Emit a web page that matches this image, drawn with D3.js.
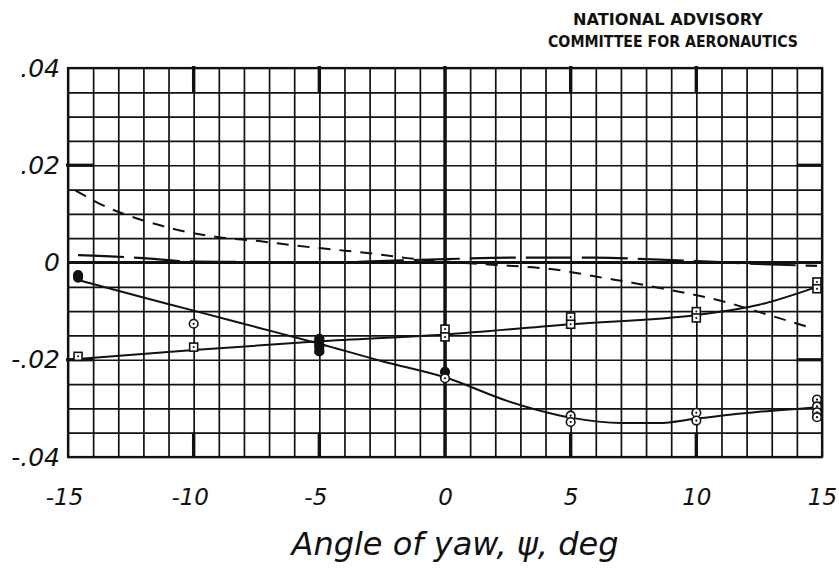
<!DOCTYPE html>
<html>
<head>
<meta charset="utf-8">
<script src="https://cdn.jsdelivr.net/npm/d3@7"></script>
<style>
  html, body { margin: 0; padding: 0; background: #fff; }
  svg { display: block; }
</style>
</head>
<body>
<svg id="chart" width="839" height="568"></svg>
<script>
// ---- data ----
const xTicks = [-15, -10, -5, 0, 5, 10, 15];
const xTickLabels = ["-15", "-10", "-5", "0", "5", "10", "15"];
const yTicks = [0.04, 0.02, 0, -0.02, -0.04];
const yTickLabels = [".04", ".02", "0", "-.02", "-.04"];

// circle-symbol test points
const circleX = [-14.6, -14.6, -10, -5, -5, -5, 0, 0, 5, 5, 10, 10, 14.8, 14.8, 14.8, 14.8];
const circleY = [-0.0026, -0.0031, -0.0126, -0.0157, -0.0172, -0.0183, -0.0225, -0.0238, -0.0315, -0.0328, -0.0309, -0.0325, -0.0282, -0.0296, -0.0308, -0.0318];
const circleFilled = [true, true, false, true, true, true, true, false, false, false, false, false, false, false, false, false];

// square-symbol test points
const squareX = [-14.6, -10, -5, -5, 0, 0, 5, 5, 10, 10, 14.8, 14.8];
const squareY = [-0.0193, -0.0174, -0.0163, -0.0178, -0.0137, -0.0153, -0.0112, -0.0127, -0.0101, -0.0114, -0.0040, -0.0054];

// faired curve through circles (solid)
const circleCurveX = [-14.6, -12, -10, -7.5, -5, -2.5, 0, 2.5, 5, 7, 8.5, 10, 12.5, 14.8];
const circleCurveY = [-0.0036, -0.0072, -0.0099, -0.0133, -0.0167, -0.0203, -0.0236, -0.0285, -0.0319, -0.0330, -0.0330, -0.0321, -0.0307, -0.0298];

// faired curve through squares (solid)
const squareCurveX = [-15, -10, -5, 0, 5, 10, 12.5, 14.8];
const squareCurveY = [-0.0200, -0.0180, -0.0162, -0.0148, -0.0127, -0.0108, -0.0087, -0.0050];

// short-dashed curve
const shortDashX = [-14.7, -13.5, -12.4, -11.3, -10, -9, -7.4, -6, -4.5, -3, -1.5, 0, 2, 3.5, 4.6, 6, 7.5, 9, 11, 12.5, 14.6];
const shortDashY = [0.0148, 0.0115, 0.0093, 0.0076, 0.0060, 0.0052, 0.0044, 0.0035, 0.0027, 0.0019, 0.0009, 0.0002, -0.0005, -0.0010, -0.0016, -0.0029, -0.0042, -0.0057, -0.0079, -0.0102, -0.0135];

// long-dashed curve near zero
const longDashX = [-14.6, -12, -10.5, -8, -5, -2, 0, 3, 6, 8, 10, 12, 14.8];
const longDashY = [0.0015, 0.0009, 0.0003, 0.0001, 0.0000, 0.0004, 0.0007, 0.0010, 0.0010, 0.0007, 0.0003, -0.0002, -0.0007];

const gridXValues = d3.range(-15, 16, 1);
const gridYValues = d3.range(-8, 9, 1).map(i => i * 0.005);

// ---- layout ----
const svg = d3.select("#chart");
const pL = 68, pR = 822, pT = 68, pB = 457;
const x = d3.scaleLinear().domain([-15, 15]).range([pL, pR]);
const y = d3.scaleLinear().domain([-0.04, 0.04]).range([pB, pT]);
const ink = "#111";

// grid via axes
const gx = svg.append("g").attr("transform", `translate(0,${pB})`)
  .call(d3.axisBottom(x).tickValues(gridXValues).tickSize(-(pB - pT)).tickFormat(""));
gx.select(".domain").remove();
gx.selectAll("line").attr("stroke", ink).attr("stroke-width", 1.7);

const gy = svg.append("g").attr("transform", `translate(${pL},0)`)
  .call(d3.axisLeft(y).tickValues(gridYValues).tickSize(-(pR - pL)).tickFormat(""));
gy.select(".domain").remove();
gy.selectAll("line").attr("stroke", ink).attr("stroke-width", 1.7);

// heavy reference lines
svg.append("line").attr("x1", x(0)).attr("x2", x(0)).attr("y1", pT - 2).attr("y2", pB + 1)
  .attr("stroke", ink).attr("stroke-width", 3.4);
svg.append("line").attr("x1", pL).attr("x2", pR).attr("y1", y(0)).attr("y2", y(0))
  .attr("stroke", ink).attr("stroke-width", 2.8);
// heavy tick segments on the border cells
[-10, -5, 5, 10].forEach(v => {
  svg.append("line").attr("x1", x(v)).attr("x2", x(v)).attr("y1", pT - 2).attr("y2", y(0.035))
    .attr("stroke", ink).attr("stroke-width", 3.4);
  svg.append("line").attr("x1", x(v)).attr("x2", x(v)).attr("y1", y(-0.035)).attr("y2", pB + 1)
    .attr("stroke", ink).attr("stroke-width", 3.4);
});
[0.02, -0.02].forEach(v => {
  svg.append("line").attr("x1", pL - 2).attr("x2", x(-14)).attr("y1", y(v)).attr("y2", y(v))
    .attr("stroke", ink).attr("stroke-width", 3.2);
  svg.append("line").attr("x1", x(14)).attr("x2", pR + 1).attr("y1", y(v)).attr("y2", y(v))
    .attr("stroke", ink).attr("stroke-width", 3.2);
});
// border
svg.append("rect").attr("x", pL).attr("y", pT).attr("width", pR - pL).attr("height", pB - pT)
  .attr("fill", "none").attr("stroke", ink).attr("stroke-width", 2.2);

// ---- curves ----
const zip = (xs, ys) => xs.map((v, i) => [v, ys[i]]);
const line = d3.line().x(d => x(d[0])).y(d => y(d[1])).curve(d3.curveMonotoneX);

svg.append("path").datum(zip(shortDashX, shortDashY)).attr("d", line)
  .attr("fill", "none").attr("stroke", ink).attr("stroke-width", 2).attr("stroke-dasharray", "12,9");
svg.append("path").datum(zip(longDashX, longDashY)).attr("d", line)
  .attr("fill", "none").attr("stroke", ink).attr("stroke-width", 2.2).attr("stroke-dasharray", "46,10");
svg.append("path").datum(zip(circleCurveX, circleCurveY)).attr("d", line)
  .attr("fill", "none").attr("stroke", ink).attr("stroke-width", 2);
svg.append("path").datum(zip(squareCurveX, squareCurveY)).attr("d", line)
  .attr("fill", "none").attr("stroke", ink).attr("stroke-width", 2);

// ---- markers ----
const sq = svg.append("g");
squareX.forEach((v, i) => {
  const cx = x(v), cy = y(squareY[i]);
  sq.append("rect").attr("x", cx - 4).attr("y", cy - 4).attr("width", 8).attr("height", 8)
    .attr("fill", "#fff").attr("stroke", ink).attr("stroke-width", 1.6);
  sq.append("circle").attr("cx", cx).attr("cy", cy).attr("r", 1).attr("fill", ink);
});
const ci = svg.append("g");
circleX.forEach((v, i) => {
  const cx = x(v), cy = y(circleY[i]);
  ci.append("circle").attr("cx", cx).attr("cy", cy).attr("r", 4.3)
    .attr("fill", circleFilled[i] ? ink : "#fff").attr("stroke", ink).attr("stroke-width", 1.6);
  if (!circleFilled[i]) ci.append("circle").attr("cx", cx).attr("cy", cy).attr("r", 1.1).attr("fill", ink);
});

// ---- tick labels via axes ----
const labelFont = "'DejaVu Sans', sans-serif";
const ax = svg.append("g").attr("transform", `translate(0,${pB})`)
  .call(d3.axisBottom(x).tickValues(xTicks).tickSize(0).tickPadding(0)
    .tickFormat((d, i) => xTickLabels[i]));
ax.select(".domain").remove();
ax.selectAll("text")
  .attr("y", 48).attr("dy", 0)
  .attr("dx", d => d < 0 ? -4 : 0)
  .attr("font-family", labelFont).attr("font-style", "oblique").attr("font-size", 23)
  .attr("fill", ink);

const ay = svg.append("g").attr("transform", `translate(${pL},0)`)
  .call(d3.axisLeft(y).tickValues(yTicks).tickSize(0).tickPadding(8)
    .tickFormat((d, i) => yTickLabels[i]));
ay.select(".domain").remove();
ay.selectAll("text")
  .attr("font-family", labelFont).attr("font-style", "oblique").attr("font-size", 25)
  .attr("fill", ink);

// ---- axis title ----
svg.append("text").attr("x", 455).attr("y", 555).attr("text-anchor", "middle")
  .attr("font-family", labelFont).attr("font-size", 32).attr("font-style", "oblique")
  .attr("fill", ink).text("Angle of yaw, ψ, deg");

// ---- header ----
svg.append("text").attr("x", 668).attr("y", 25).attr("text-anchor", "middle")
  .attr("font-family", "'DejaVu Sans', sans-serif").attr("font-weight", "bold").attr("font-size", 15)
  .attr("textLength", 190).attr("lengthAdjust", "spacingAndGlyphs")
  .attr("fill", ink).text("NATIONAL ADVISORY");
svg.append("text").attr("x", 673).attr("y", 47).attr("text-anchor", "middle")
  .attr("font-family", "'DejaVu Sans', sans-serif").attr("font-weight", "bold").attr("font-size", 15)
  .attr("textLength", 250).attr("lengthAdjust", "spacingAndGlyphs")
  .attr("fill", ink).text("COMMITTEE FOR AERONAUTICS");
</script>
</body>
</html>
